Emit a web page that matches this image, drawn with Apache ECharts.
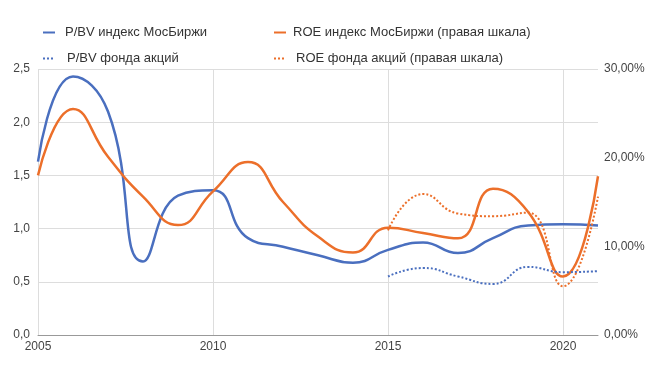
<!DOCTYPE html>
<html><head><meta charset="utf-8">
<script src="https://cdn.jsdelivr.net/npm/echarts@6/dist/echarts.min.js"></script>
<style>html,body{margin:0;padding:0;background:#fff}#c{width:659px;height:385px}</style>
</head><body><div id="c"></div>
<script>
const years = [2005,2006,2007,2008,2009,2010,2011,2012,2013,2014,2015,2016,2017,2018,2019,2020,2021];
const pbvIndex = [1.63,2.43,2.10,0.69,1.31,1.36,0.91,0.83,0.75,0.68,0.80,0.87,0.77,0.91,1.03,1.04,1.03];
const roeIndex = [18.0,25.5,20.1,15.6,12.4,16.2,19.5,15.0,11.1,9.3,12.1,11.5,10.9,16.5,13.9,6.6,17.9];
const pbvFund = [null,null,null,null,null,null,null,null,null,null,0.55,0.63,0.55,0.48,0.64,0.59,0.60];
const roeFund = [null,null,null,null,null,null,null,null,null,null,11.8,15.9,13.7,13.4,13.8,5.5,15.6];
const leftTicks = [0,0.5,1,1.5,2,2.5];
const names = ['P/BV индекс МосБиржи','ROE индекс МосБиржи (правая шкала)','P/BV фонда акций','ROE фонда акций (правая шкала)'];
const blue = '#4a6fbf', orange = '#ec6f2a';
const pair = arr => years.map((y,i)=>[y,arr[i]]);
const chart = echarts.init(document.getElementById('c'));
const font = 'Liberation Sans, Arial, sans-serif';
function lg(name, left, top, pad){
  return {data:[name], left:left, top:top, itemWidth:12, itemHeight:8, itemGap:0, padding:0,
    selectedMode:false, itemStyle:{opacity:0},
    textStyle:{color:'#333', fontSize:13, fontFamily:font, padding:[0,0,0,pad]}};
}
chart.setOption({
  animation:false,
  legend:[lg(names[0],42,26,5), lg(names[1],273,26,2), lg(names[2],42,52,7), lg(names[3],273,52,5)],
  grid:{left:38,right:61,top:69,bottom:50},
  xAxis:{type:'value',min:2005,max:2021,interval:5,
    axisLine:{show:true,lineStyle:{color:'#999'}},axisTick:{show:false},
    splitLine:{show:true,showMaxLine:false,lineStyle:{color:'#ddd'}},
    axisLabel:{color:'#444',fontSize:12,fontFamily:font,margin:6,
      formatter:v=> (v%5===0? String(v):''), showMaxLabel:false}},
  yAxis:[
    {type:'value',min:leftTicks[0],max:leftTicks[leftTicks.length-1],interval:0.5,
     axisLine:{show:false},axisTick:{show:false},
     splitLine:{lineStyle:{color:'#ddd'}},
     axisLabel:{color:'#444',fontSize:12,fontFamily:font,margin:8,
       formatter:v=>v.toFixed(1).replace('.',',')}},
    {type:'value',min:0,max:30,interval:10,position:'right',
     axisLine:{show:false},axisTick:{show:false},splitLine:{show:false},
     axisLabel:{color:'#444',fontSize:12,fontFamily:font,margin:6,
       formatter:v=>v.toFixed(2).replace('.',',')+'%'}}
  ],
  series:[
    {name:names[0],type:'line',smooth:0.5,showSymbol:false,symbol:'none',data:pair(pbvIndex),yAxisIndex:0,
     lineStyle:{color:blue,width:2.5},itemStyle:{color:blue}},
    {name:names[1],type:'line',smooth:0.5,showSymbol:false,symbol:'none',data:pair(roeIndex),yAxisIndex:1,
     lineStyle:{color:orange,width:2.5},itemStyle:{color:orange}},
    {name:names[2],type:'line',smooth:0.5,showSymbol:false,symbol:'none',data:pair(pbvFund),yAxisIndex:0,
     lineStyle:{color:blue,width:2,type:[2,2]},itemStyle:{color:blue}},
    {name:names[3],type:'line',smooth:0.5,showSymbol:false,symbol:'none',data:pair(roeFund),yAxisIndex:1,
     lineStyle:{color:orange,width:2,type:[2,2]},itemStyle:{color:orange}}
  ]
});
</script></body></html>
